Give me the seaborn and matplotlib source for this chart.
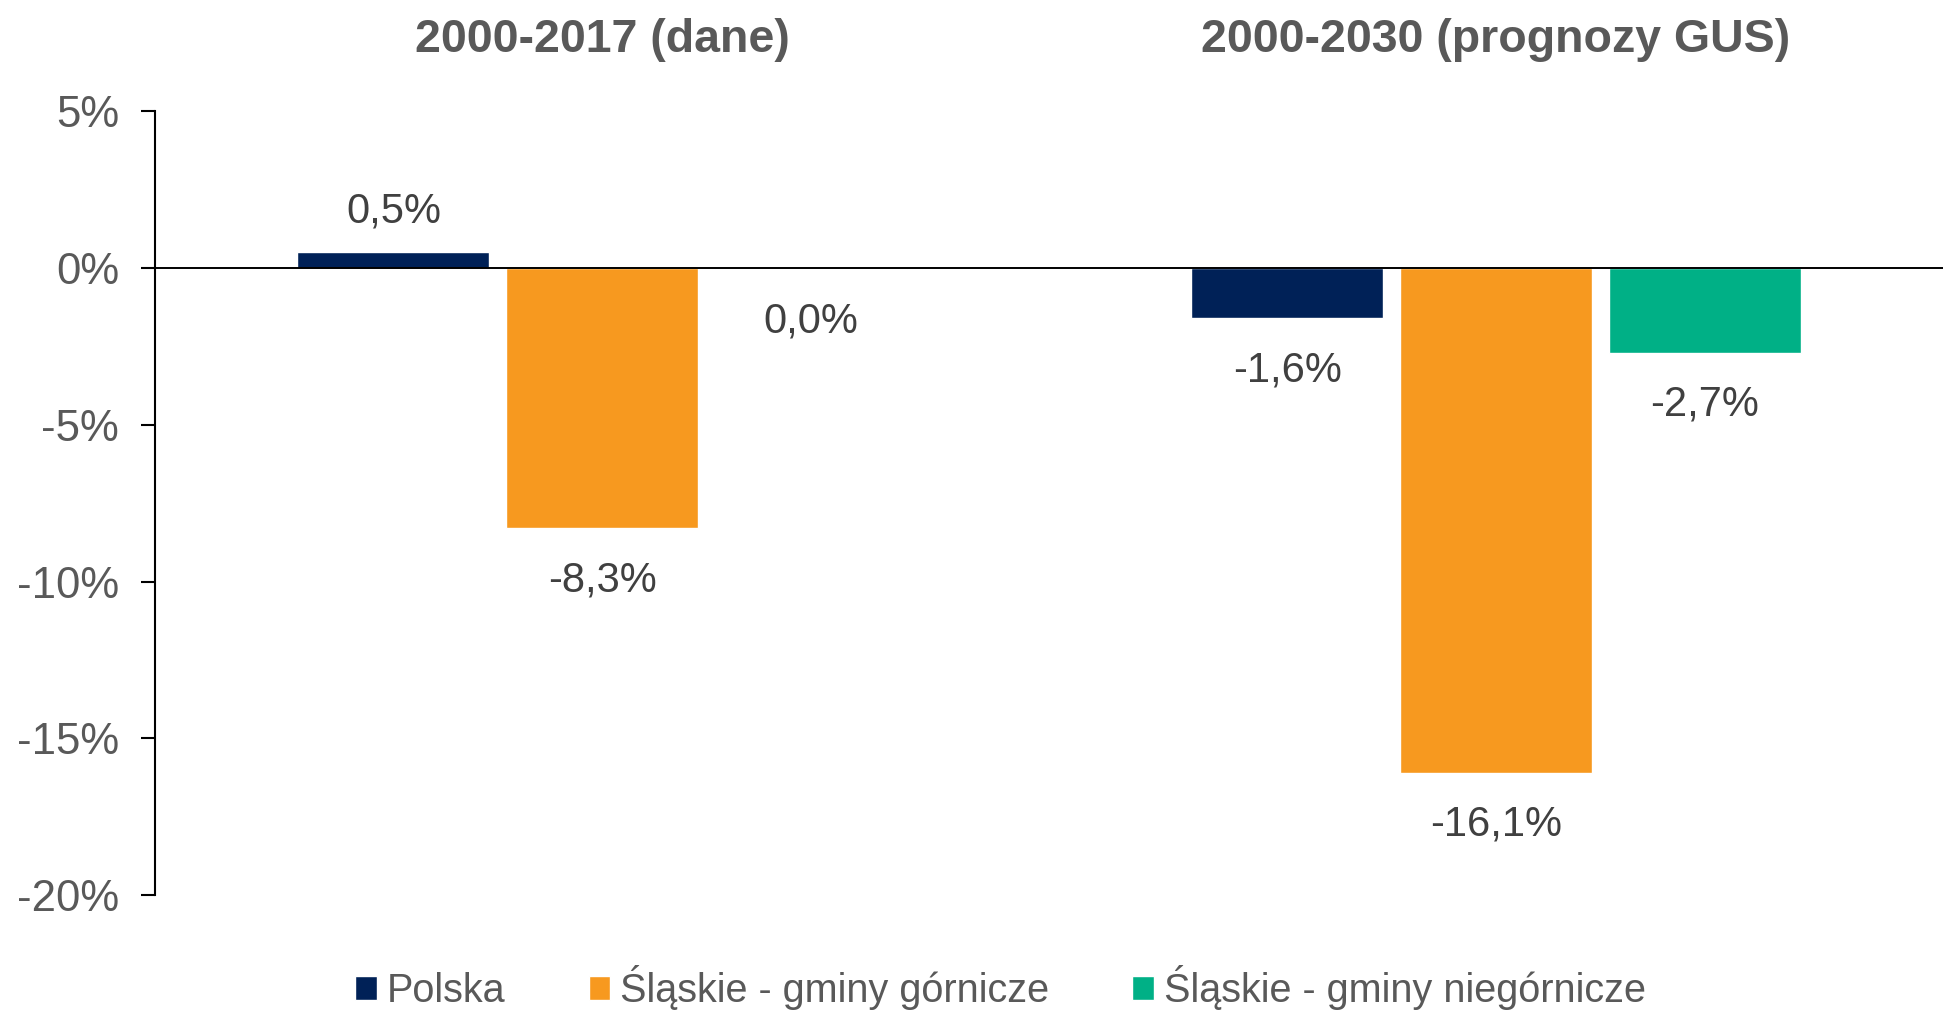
import pandas as pd
import matplotlib
matplotlib.use("Agg")
import matplotlib.pyplot as plt
import seaborn as sns

# data
periods = ["2000-2017 (dane)", "2000-2030 (prognozy GUS)"]
series = ["Polska", "Śląskie - gminy górnicze", "Śląskie - gminy niegórnicze"]
values_2017 = [0.5, -8.3, -0.045]
values_2030 = [-1.6, -16.1, -2.7]
colors = ["#002157", "#F7991F", "#00B086"]

rows = []
for p, vals in zip(periods, [values_2017, values_2030]):
    for s, v in zip(series, vals):
        rows.append({"period": p, "series": s, "value": v})
df = pd.DataFrame(rows)

sns.set_style("white")
plt.rcParams["font.family"] = ["Liberation Sans", "DejaVu Sans"]
grey = "#595959"

fig = plt.figure(figsize=(19.43, 10.11), dpi=100)
ax = fig.add_axes([0.0798, 0.1147, 0.9202, 0.7753])

sns.barplot(data=df, x="period", y="value", hue="series", palette=colors,
            width=0.70, gap=0.08, saturation=1, ax=ax)

ax.set_ylim(-20, 5)
ax.set_xlim(-0.5, 1.5)
ax.set_yticks([5, 0, -5, -10, -15, -20])
ax.set_yticklabels([f"{t}%" for t in [5, 0, -5, -10, -15, -20]])
ax.tick_params(axis="y", direction="out", length=10, width=1.5, color="black",
               labelsize=31.5, labelcolor=grey, pad=16, left=True)
ax.tick_params(axis="x", bottom=False, labelbottom=False)
ax.set_xlabel("")
ax.set_ylabel("")

for side in ["top", "right", "bottom"]:
    ax.spines[side].set_visible(False)
ax.spines["left"].set_color("black")
ax.spines["left"].set_linewidth(1.5)
ax.axhline(0, color="black", lw=1.4, zorder=1.5)

# value labels: above positive bars, below negative ones
for cont, vals in zip(ax.containers, zip(values_2017, values_2030)):
    txt = [f"{round(v, 1) + 0.0:.1f}%".replace(".", ",") for v in vals]
    pos = [t if v >= 0 else "" for t, v in zip(txt, vals)]
    neg = [t if v < 0 else "" for t, v in zip(txt, vals)]
    ax.bar_label(cont, labels=pos, padding=15, fontsize=30, color="#404040")
    ax.bar_label(cont, labels=neg, padding=23, fontsize=30, color="#404040")

# group titles above the plot
for i, p in enumerate(periods):
    ax.text(i, 1.091, p, transform=ax.get_xaxis_transform(), ha="center",
            va="center", fontsize=33.5, fontweight="bold", color=grey)

handles, labels = ax.get_legend_handles_labels()
ax.get_legend().remove()
fig.legend(handles, labels, loc="center", bbox_to_anchor=(0.515, 0.023),
           ncol=3, frameon=False, fontsize=28.5, labelcolor=grey,
           handlelength=0.55, handleheight=0.55, handletextpad=0.25,
           columnspacing=2.1)

fig.savefig("out.png", dpi=100)
